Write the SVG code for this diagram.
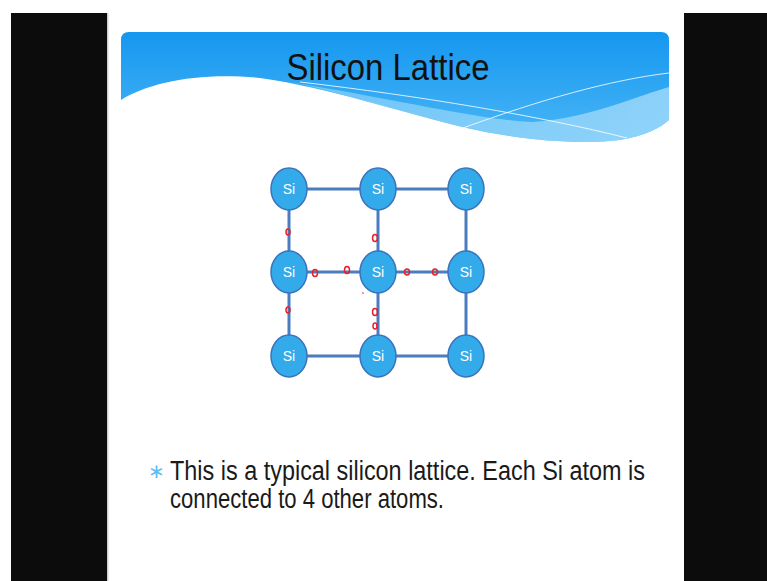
<svg xmlns="http://www.w3.org/2000/svg" width="767" height="581" viewBox="0 0 767 581">
  <defs>
    <linearGradient id="hdr" x1="0" y1="0" x2="0" y2="1">
      <stop offset="0" stop-color="#1597ef"/>
      <stop offset="1" stop-color="#4ab6f6"/>
    </linearGradient>
    <linearGradient id="band" x1="0" y1="0" x2="1" y2="0">
      <stop offset="0" stop-color="#7fcdf8"/>
      <stop offset="1" stop-color="#a9defb"/>
    </linearGradient>
    <style>
      .bond{stroke:#4a7cc0;stroke-width:3;fill:none}
      .atom ellipse{fill:#33aaea;stroke:#3a73bd;stroke-width:1.5}
      .atom text{fill:#ffffff;font-family:"Liberation Sans",Arial,sans-serif;font-size:14px;text-anchor:middle}
      .mark{fill:none;stroke:#e8202a;stroke-width:1.5}
      .body{font-family:"Liberation Sans",Arial,sans-serif;font-size:27px;fill:#1a1a1a}
    </style>
  </defs>

  <rect width="767" height="581" fill="#ffffff"/>
  <rect x="11" y="13" width="96" height="568" fill="#0c0c0c"/>
  <rect x="107" y="13" width="1.5" height="568" fill="#cfcfcf"/>
  <rect x="684" y="13" width="83" height="568" fill="#0c0c0c"/>

  <g id="header">
    <path d="M121,100 C150,82 200,72 260,78 C330,88 400,112 467,128 C520,140 580,145 620,140 C645,136 660,128 669,120 L669,40 Q669,32 661,32 L129,32 Q121,32 121,40 Z" fill="url(#hdr)"/>
    <path d="M290,82 C400,100 480,120 533,122 C590,118 640,95 669,87 L669,120 C660,128 645,136 620,140 C580,145 520,140 467,128 C400,112 330,90 290,82 Z" fill="url(#band)" opacity="0.75"/>
    <path d="M300,82 C420,96 540,116 627,138" stroke="#ffffff" stroke-width="1" fill="none" opacity="0.8"/>
    <path d="M463,128 C540,100 610,80 669,73" stroke="#ffffff" stroke-width="1" fill="none" opacity="0.8"/>
    <text x="388" y="80" text-anchor="middle" font-family="Liberation Sans Narrow,Liberation Sans,Arial,sans-serif" font-size="37" fill="#111111" textLength="203" lengthAdjust="spacingAndGlyphs">Silicon Lattice</text>
  </g>

  <g id="connectors">
    <line class="bond" x1="289" y1="189" x2="466" y2="189"/>
    <line class="bond" x1="289" y1="272" x2="466" y2="272"/>
    <line class="bond" x1="289" y1="356" x2="466" y2="356"/>
    <line class="bond" x1="289" y1="189" x2="289" y2="356"/>
    <line class="bond" x1="378" y1="189" x2="378" y2="356"/>
    <line class="bond" x1="466" y1="189" x2="466" y2="356"/>
  </g>

  <g id="atom-1-1" class="atom"><ellipse cx="289" cy="189" rx="18" ry="21"/><text x="289" y="194">Si</text></g>
  <g id="atom-1-2" class="atom"><ellipse cx="378" cy="189" rx="18" ry="21"/><text x="378" y="194">Si</text></g>
  <g id="atom-1-3" class="atom"><ellipse cx="466" cy="189" rx="18" ry="21"/><text x="466" y="194">Si</text></g>
  <g id="atom-2-1" class="atom"><ellipse cx="289" cy="272" rx="18" ry="21"/><text x="289" y="277">Si</text></g>
  <g id="atom-2-2" class="atom"><ellipse cx="378" cy="272" rx="18" ry="21"/><text x="378" y="277">Si</text></g>
  <g id="atom-2-3" class="atom"><ellipse cx="466" cy="272" rx="18" ry="21"/><text x="466" y="277">Si</text></g>
  <g id="atom-3-1" class="atom"><ellipse cx="289" cy="356" rx="18" ry="21"/><text x="289" y="361">Si</text></g>
  <g id="atom-3-2" class="atom"><ellipse cx="378" cy="356" rx="18" ry="21"/><text x="378" y="361">Si</text></g>
  <g id="atom-3-3" class="atom"><ellipse cx="466" cy="356" rx="18" ry="21"/><text x="466" y="361">Si</text></g>

  <g id="electrons">
    <ellipse class="mark" cx="288" cy="232" rx="2" ry="3"/>
    <ellipse class="mark" cx="375" cy="238" rx="2.5" ry="3.5"/>
    <ellipse class="mark" cx="315" cy="273" rx="2.5" ry="3.5"/>
    <ellipse class="mark" cx="347" cy="270" rx="2.5" ry="3.5"/>
    <ellipse class="mark" cx="407" cy="272" rx="2.5" ry="3"/>
    <ellipse class="mark" cx="435" cy="272" rx="2.5" ry="3"/>
    <ellipse class="mark" cx="288" cy="310" rx="2" ry="3"/>
    <ellipse class="mark" cx="375" cy="312" rx="2.5" ry="3.5"/>
    <ellipse class="mark" cx="375" cy="326" rx="2" ry="3"/>
    <circle cx="363" cy="293" r="0.8" fill="#e8202a"/>
  </g>

  <g id="caption">
    <text x="148" y="478" font-family="Liberation Sans,Arial,sans-serif" font-size="20" fill="#5bc0f0">∗</text>
    <text class="body" x="170" y="480" textLength="475" lengthAdjust="spacingAndGlyphs">This is a typical silicon lattice. Each Si atom is</text>
    <text class="body" x="170" y="508" textLength="274" lengthAdjust="spacingAndGlyphs">connected to 4 other atoms.</text>
  </g>
</svg>
